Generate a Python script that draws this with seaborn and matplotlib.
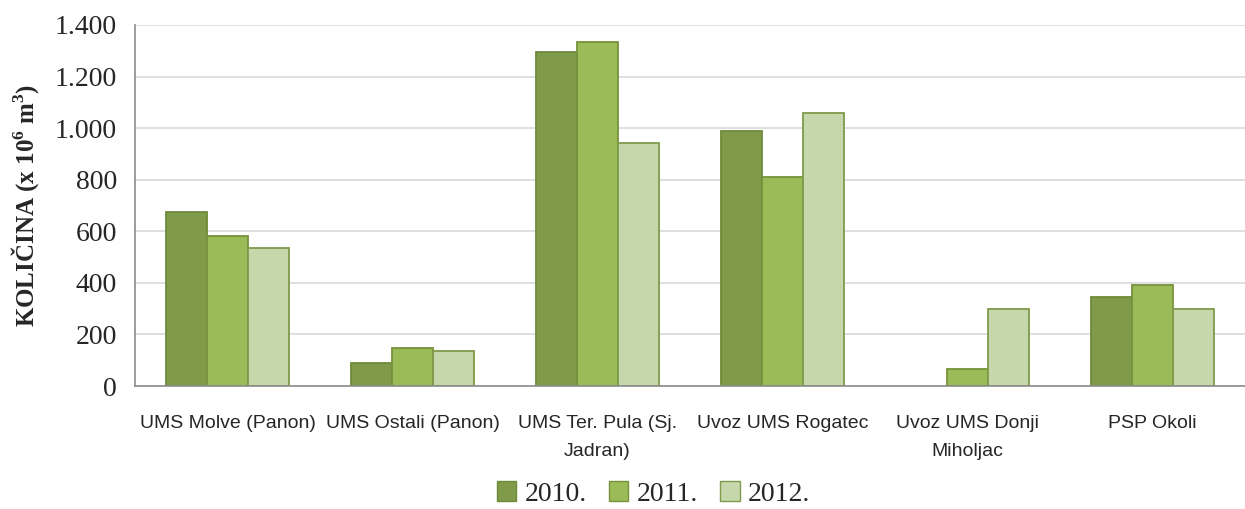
import matplotlib
matplotlib.use("Agg")
import matplotlib.pyplot as plt
import seaborn as sns
import pandas as pd
import numpy as np
from matplotlib.patches import Patch

categories = ["UMS Molve (Panon)", "UMS Ostali (Panon)", "UMS Ter. Pula (Sj.\nJadran)",
              "Uvoz UMS Rogatec", "Uvoz UMS Donji\nMiholjac", "PSP Okoli"]
years = ["2010.", "2011.", "2012."]
v2010 = [675, 89, 1295, 989, 0, 345]
v2011 = [582, 147, 1334, 810, 66, 393]
v2012 = [535, 136, 942, 1059, 297, 297]
yticks = [0, 200, 400, 600, 800, 1000, 1200, 1400]
ytick_labels = ["0", "200", "400", "600", "800", "1.000", "1.200", "1.400"]

colors = ["#7F9A48", "#9BBB59", "#C7D7AC"]
edges = ["#6E8A3A", "#76923C", "#7E9B4A"]

rows = []
for yr, vals in zip(years, [v2010, v2011, v2012]):
    for c, v in zip(categories, vals):
        rows.append({"cat": c, "year": yr, "val": v})
df = pd.DataFrame(rows)

sns.set_style("white")
plt.rcParams["mathtext.fontset"] = "custom"
plt.rcParams["mathtext.rm"] = "Liberation Serif"
plt.rcParams["mathtext.bf"] = "Liberation Serif:bold"

fig = plt.figure(figsize=(12.45, 5.09), dpi=100)
ax = fig.add_axes([135/1245, 1-386/509, (1245-135)/1245, (386-25)/509])

sns.barplot(data=df, x="cat", y="val", hue="year", palette=colors, width=0.66,
            ax=ax, legend=False, saturation=1)
for i, cont in enumerate(ax.containers):
    for p in cont:
        p.set_edgecolor(edges[i])
        p.set_linewidth(1.3)
        if p.get_height() == 0:
            p.set_visible(False)

ax.set_ylim(0, 1400)
ax.set_xlim(-0.5, 5.5)
ax.set_yticks(yticks)
ax.set_yticklabels(ytick_labels, fontsize=20, family="Liberation Serif")
ax.yaxis.grid(True, color="#D9D9D9", linewidth=1.2)
ax.set_axisbelow(True)
for s in ["top", "right"]:
    ax.spines[s].set_visible(False)
for s in ["left", "bottom"]:
    ax.spines[s].set_color("#8C8C8C")
    ax.spines[s].set_linewidth(1.2)
ax.tick_params(axis="y", length=7, color="#8C8C8C", width=1.2, pad=6)

ax.set_xticks(range(len(categories)))
ax.set_xticklabels(categories, fontsize=14, family=["Liberation Sans Narrow", "Liberation Sans"])
ax.tick_params(axis="x", length=0, pad=21)
ax.set_xticks(np.arange(-0.5, 6, 1), minor=True)
ax.tick_params(axis="x", which="minor", length=8, color="#8C8C8C", width=1.2)
for lbl in ax.get_xticklabels():
    lbl.set_linespacing(1.85)

ax.set_xlabel("")
ax.set_ylabel(r"KOLIČINA (x 10$^{\mathbf{6}}$ m$^{\mathbf{3}}$)", fontsize=18, fontweight="bold",
              family="Liberation Serif", labelpad=10)

handles = [Patch(facecolor=colors[i], edgecolor=edges[i], label=years[i]) for i in range(3)]
fig.legend(handles=handles, loc="center", bbox_to_anchor=(0.525, 1-494/509), ncol=3,
           frameon=False, prop={"family": "Liberation Serif", "size": 20},
           handlelength=0.7, handleheight=0.7, handletextpad=0.3, columnspacing=0.8)

fig.savefig("out.png", dpi=100)
